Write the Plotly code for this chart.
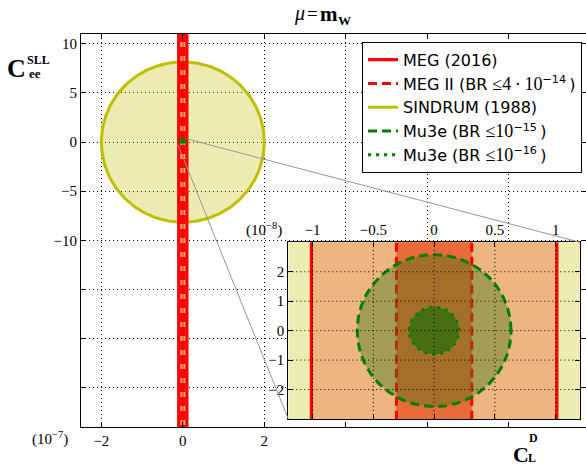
import numpy as np
import plotly.graph_objects as go

# ---- bounds (absolute values) ----
# dipole coefficient C_L^D limits
MEG_2016_CD = 1.01e-8
MEG_II_CD = 0.31e-8
# SINDRUM ellipse semi-axes: (C_L^D, C_ee^SLL)
SINDRUM_CD = 2.0e-7
SINDRUM_CEE = 8.16
# Mu3e projected ellipses
MU3E_15_CD = 0.633e-8
MU3E_15_CEE = 0.258
MU3E_16_CD = 0.205e-8
MU3E_16_CEE = 0.080

MATH = "<span style='font-family:Liberation Serif;font-size:18px'>{}</span>"
legend_names = [
    "MEG (2016)",
    "MEG II (BR " + MATH.format("≤4\u2009·\u200910") + "<sup>−14</sup>\u2009)",
    "SINDRUM (1988)",
    "Mu3e (BR " + MATH.format("≤10") + "<sup>−15</sup>\u2009)",
    "Mu3e (BR " + MATH.format("≤10") + "<sup>−16</sup>\u2009)",
]

main_xticks = [-2, 0, 2, 4, 6, 8]
main_xticktext = ["−2", "0", "2", "", "", ""]
main_yticks = [10, 5, 0, -5, -10, -15, -20, -25]
main_yticktext = ["10", "5", "0", "−5", "−10", "", "", ""]
inset_xticks = [-1, -0.5, 0, 0.5, 1]
inset_xticktext = ["−1", "−0.5", "0", "0.5", "1"]
inset_yticks = [-2, -1, 0, 1, 2]
inset_yticktext = ["−2", "−1", "0", "1", "2"]

# axis units: main plot x in 1e-7, inset x in 1e-8, inset y in 1e-1
MAIN_XU, MAIN_YU = 1e-7, 1.0
INS_XU, INS_YU = 1e-8, 0.1

XR = [-2.5, 9.9]
YR = [-29, 11]
XR2 = [-1.2, 1.2]
YR2 = [-3, 3]
X2DOM = [0.4105, 0.988]
Y2DOM = [0.0204, 0.470]

W, H = 586, 469
ML, MR, MT, MB = 81, 0, 34, 42

RED = "rgb(255,0,0)"
OLIVE = "rgb(191,191,0)"
GREEN = "rgb(0,128,0)"
PEACH = "rgb(236,181,130)"
ORANGE = "rgb(233,108,56)"
DASH = "9px,5px"
DOT = "3px,5px"

t = np.linspace(0, 2 * np.pi, 241)


def ellipse(rx, ry):
    return rx * np.cos(t), ry * np.sin(t)


fig = go.Figure()


def add_panel(xu, yu, xa, ya, yspan, legend, sindrum_fill):
    show = legend
    lo, hi = yspan
    # SINDRUM
    ex, ey = ellipse(SINDRUM_CD / xu, SINDRUM_CEE / yu)
    fig.add_trace(go.Scatter(x=ex, y=ey, fill="toself", fillcolor=sindrum_fill,
                             mode="lines", line=dict(width=0), hoverinfo="skip",
                             showlegend=False, xaxis=xa, yaxis=ya))
    fig.add_trace(go.Scatter(x=ex, y=ey, mode="lines", line=dict(color=OLIVE, width=3),
                             name=legend_names[2], legendrank=3, showlegend=show,
                             xaxis=xa, yaxis=ya))
    # MEG (2016) band
    b = MEG_2016_CD / xu
    fig.add_trace(go.Scatter(x=[-b, b, b, -b, -b], y=[lo, lo, hi, hi, lo], fill="toself",
                             fillcolor=PEACH, mode="lines", line=dict(width=0),
                             hoverinfo="skip", showlegend=False, xaxis=xa, yaxis=ya))
    # MEG II band
    b2 = MEG_II_CD / xu
    fig.add_trace(go.Scatter(x=[-b2, b2, b2, -b2, -b2], y=[lo, lo, hi, hi, lo], fill="toself",
                             fillcolor=ORANGE, mode="lines", line=dict(width=0),
                             hoverinfo="skip", showlegend=False, xaxis=xa, yaxis=ya))
    fig.add_trace(go.Scatter(x=[-b, -b, None, b, b], y=[lo, hi, None, lo, hi],
                             mode="lines", line=dict(color=RED, width=3.2),
                             name=legend_names[0], legendrank=1, showlegend=show,
                             xaxis=xa, yaxis=ya))
    fig.add_trace(go.Scatter(x=[-b2, -b2, None, b2, b2], y=[lo, hi, None, lo, hi],
                             mode="lines", line=dict(color=RED, width=3, dash=DASH),
                             name=legend_names[1], legendrank=2, showlegend=show,
                             xaxis=xa, yaxis=ya))
    # Mu3e 1e-15
    mx, my = ellipse(MU3E_15_CD / xu, MU3E_15_CEE / yu)
    fig.add_trace(go.Scatter(x=mx, y=my, fill="toself", fillcolor="rgba(60,120,20,0.4)",
                             mode="lines", line=dict(width=0), hoverinfo="skip",
                             showlegend=False, xaxis=xa, yaxis=ya))
    fig.add_trace(go.Scatter(x=mx, y=my, mode="lines",
                             line=dict(color=GREEN, width=3, dash=DASH),
                             name=legend_names[3], legendrank=4, showlegend=show,
                             xaxis=xa, yaxis=ya))
    # Mu3e 1e-16
    nx, ny = ellipse(MU3E_16_CD / xu, MU3E_16_CEE / yu)
    fig.add_trace(go.Scatter(x=nx, y=ny, fill="toself", fillcolor="rgba(40,110,10,0.75)",
                             mode="lines", line=dict(width=0), hoverinfo="skip",
                             showlegend=False, xaxis=xa, yaxis=ya))
    fig.add_trace(go.Scatter(x=nx, y=ny, mode="lines",
                             line=dict(color=GREEN, width=3, dash=DOT),
                             name=legend_names[4], legendrank=5, showlegend=show,
                             xaxis=xa, yaxis=ya))


add_panel(MAIN_XU, MAIN_YU, "x", "y", (YR[0] - 5, YR[1] + 5), True, "rgba(191,191,0,0.3)")
add_panel(INS_XU, INS_YU, "x2", "y2", (YR2[0] - 0.5, YR2[1] + 0.5), False, "rgb(236,236,179)")

serif = "Liberation Serif"
tickfont = dict(family=serif, size=15, color="black")
grid = dict(showgrid=True, gridcolor="black", gridwidth=1, griddash="1px,3px")
axis_common = dict(ticks="inside", ticklen=5, tickcolor="black", showline=True,
                   linecolor="black", linewidth=1, mirror="ticks", zeroline=False,
                   tickfont=tickfont)

fig.update_layout(
    width=W, height=H,
    margin=dict(l=ML, r=MR, t=MT, b=MB, autoexpand=False),
    paper_bgcolor="white", plot_bgcolor="white",
    xaxis=dict(range=XR, tickvals=main_xticks, ticktext=main_xticktext,
               domain=[0, 1], **axis_common, **grid),
    yaxis=dict(range=YR, tickvals=main_yticks, ticktext=main_yticktext,
               domain=[0, 1], **axis_common, **grid),
    xaxis2=dict(range=XR2, tickvals=inset_xticks, ticktext=inset_xticktext,
                domain=X2DOM, anchor="y2", side="top", showgrid=False, **axis_common),
    yaxis2=dict(range=YR2, tickvals=inset_yticks, ticktext=inset_yticktext,
                domain=Y2DOM, anchor="x2", showgrid=False, **axis_common),
    showlegend=True,
    legend=dict(x=(362 - ML) / (W - ML - MR), y=(H - MB - 41.7) / (H - MT - MB),
                xanchor="left", yanchor="top", bgcolor="white", bordercolor="black",
                borderwidth=1, font=dict(family="DejaVu Sans", size=16, color="black"),
                tracegroupgap=0),
)

# inset grid drawn on top of the filled regions
shapes = []
for xv in inset_xticks:
    shapes.append(dict(type="line", xref="x2", yref="y2", x0=xv, x1=xv, y0=YR2[0], y1=YR2[1],
                       line=dict(color="black", width=1, dash="1px,3px"), layer="above"))
for yv in inset_yticks:
    shapes.append(dict(type="line", xref="x2", yref="y2", x0=XR2[0], x1=XR2[1], y0=yv, y1=yv,
                       line=dict(color="black", width=1, dash="1px,3px"), layer="above"))


# connectors from the zoomed region to the inset corners
def main_paper(x, y):
    return (x - XR[0]) / (XR[1] - XR[0]), (y - YR[0]) / (YR[1] - YR[0])


zx = XR2[1] * INS_XU / MAIN_XU
zy = YR2[1] * INS_YU / MAIN_YU
p_tr = main_paper(zx, zy)
p_bl = main_paper(-zx, -zy)
shapes.append(dict(type="line", xref="paper", yref="paper", x0=p_tr[0], y0=p_tr[1],
                   x1=X2DOM[1], y1=Y2DOM[1], line=dict(color="rgb(150,150,150)", width=1),
                   layer="above"))
shapes.append(dict(type="line", xref="paper", yref="paper", x0=p_bl[0], y0=p_bl[1],
                   x1=X2DOM[0], y1=Y2DOM[0], line=dict(color="rgb(150,150,150)", width=1),
                   layer="above"))
fig.update_layout(shapes=shapes)


def px(xp, yp):
    return (xp - ML) / (W - ML - MR), (H - MB - yp) / (H - MT - MB)


def note(text, xp, yp, size, family=serif, anchor="center"):
    x, y = px(xp, yp)
    fig.add_annotation(x=x, y=y, xref="paper", yref="paper", text=text, showarrow=False,
                       xanchor=anchor, yanchor="middle",
                       font=dict(family=family, size=size, color="black"))


# title: mu = m_W
note("<i>μ</i>", 299, 14, 20)
note("=", 312, 14, 19)
note("<b>m</b>", 329, 14, 21)
note("<b>W</b>", 344, 20, 13)
# y label: C_ee^SLL
note("<b>C</b>", 16, 68, 26)
note("<b>SLL</b>", 38, 60, 12)
note("<b>ee</b>", 35, 73, 13)
# x label: C_L^D
note("<b>C</b>", 521, 454, 22)
note("<b>D</b>", 533, 438, 12)
note("<b>L</b>", 532, 458, 12)
# axis multipliers
note("(10<sup>−7</sup>)", 50, 438, 15)
note("(10<sup>−8</sup>)", 264, 229, 15)

fig.write_html("out.html")
